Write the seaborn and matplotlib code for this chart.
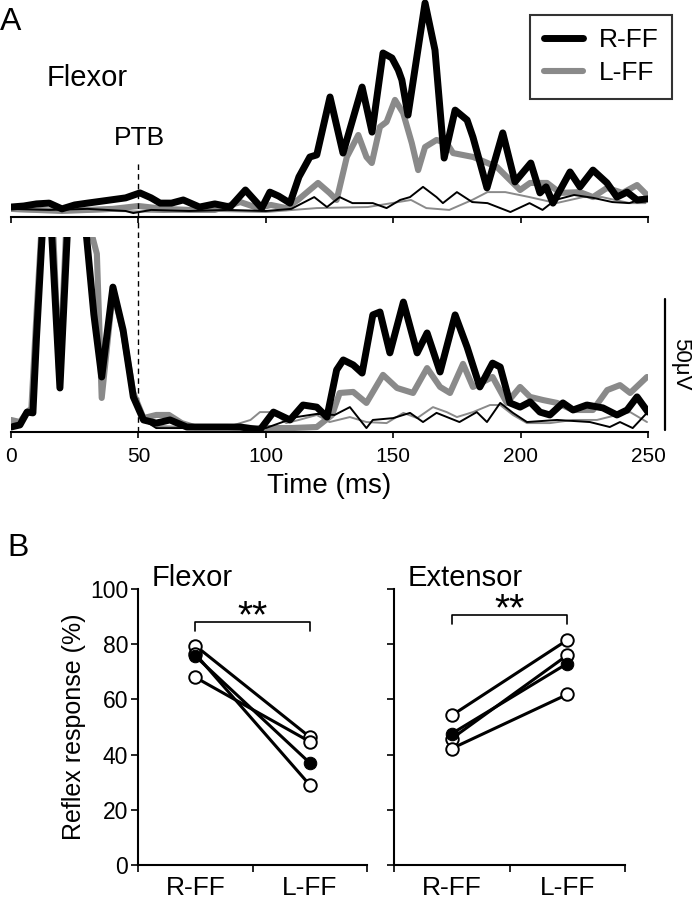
import matplotlib
matplotlib.use("Agg")
import matplotlib.pyplot as plt
import numpy as np
import pandas as pd
import seaborn as sns

# ---- Panel A: rectified EMG traces (uV vs ms) ----
# flexor, R-FF (thick black)
flx_t_r = [0, 5, 10, 15, 20, 25, 30, 39, 45, 50.6, 55, 58.5, 63, 67.6, 74, 80, 86, 92, 98.4, 101.6,
           105, 109.5, 113, 117.3, 120, 125.2, 130.3, 137.8, 141.7, 146, 149.5, 152, 153.4, 155.8, 162.5,
           166.4, 170, 174.3, 179, 181.3, 186.8, 193, 197.8, 204, 207.6, 210, 212.7, 219.4, 223.3, 228.4,
           233.9, 237.8, 241.8, 245.7, 250]
flx_r = [3.8, 4.2, 5.0, 5.3, 3.1, 4.6, 5.3, 6.5, 7.3, 9.2, 7.3, 5.3, 5.3, 6.5, 3.8, 5.0, 3.8, 10.3, 3.4, 9.5,
         8.0, 5.3, 15.3, 22.9, 23.7, 45.8, 24.4, 49.6, 32.4, 62.6, 60.7, 56.1, 52.3, 38.9, 81.7,
         63.7, 22.5, 40.8, 37.0, 30.5, 11.1, 32.1, 13.4, 20.6, 9.2, 11.5, 5.3, 17.2, 11.5, 17.9,
         13.0, 7.6, 9.5, 6.5, 6.9]
# flexor, L-FF (thick grey)
flx_t_l = [0, 10, 20, 30, 40, 50, 60, 70, 80, 90, 97, 102, 108, 112.6, 120.5, 125, 127.8, 131.8, 136.3,
           139.5, 141.6, 144.8, 147.4, 150.7, 153.9, 157.3, 159.8, 162.5, 167, 171, 173.5, 181.4, 190.7,
           194.6, 199.8, 203.7, 210.4, 215.5, 223.3, 228.4, 233.9, 240, 245.7, 249.6]
flx_l = [3.1, 2.7, 2.3, 2.7, 3.1, 4.2, 3.1, 2.7, 2.7, 5.7, 3.4, 4.6, 3.4, 6.5, 13.0, 9.2, 6.5, 22.9, 31.3,
         22.9, 20.6, 34.4, 36.3, 44.7, 39.7, 28.2, 17.9, 26.7, 29.4, 28.2, 24.4, 22.9, 19.1,
         15.3, 10.3, 13.0, 13.0, 9.2, 9.5, 7.6, 11.1, 9.2, 12.2, 8.4]
# flexor, controls (thin black / thin grey)
flx_t_rc = [0, 15, 30, 45, 48, 55, 70, 85, 100, 110, 119, 124, 129, 134, 142, 147.4, 152.7, 156.6, 161.7,
            167, 169.5, 175, 181, 187, 196, 203.5, 208.6, 213.6, 221, 228.5, 236, 242.6, 249]
flx_rc = [3.1, 2.7, 3.1, 2.3, 1.5, 2.7, 2.3, 2.7, 2.3, 3.1, 7.6, 3.8, 7.6, 5.3, 5.3, 3.4, 6.5, 7.6, 11.5,
          7.6, 5.3, 9.5, 5.7, 5.3, 1.9, 5.3, 2.7, 6.5, 8.4, 7.3, 5.7, 5.3, 7.3]
flx_t_lc = [0, 20, 40, 60, 80, 100, 120, 140, 157, 163, 172, 181, 187, 194, 203.5, 214, 224.5, 232, 237, 243, 249]
flx_lc = [2.3, 1.9, 2.3, 1.9, 2.3, 1.9, 3.4, 3.8, 6.5, 3.4, 2.7, 6.5, 9.5, 9.5, 7.6, 5.3, 7.6, 7.6, 6.5, 5.3, 5.3]

# extensor, stimulus artefact (shared by the black traces, clipped at the top)
ext_art_t = [0, 3.5, 6.3, 8.6, 10, 12.5, 14, 16, 19.2, 22.3, 26, 29.7, 32.5, 35.6, 40, 44, 48, 52]
ext_art_v = [1.9, 2.7, 7.6, 7.3, 36, 80, 100, 75, 16.8, 80, 100, 74, 45, 21, 55.3, 38.9, 13.4, 4.6]
# extensor, R-FF after the artefact
ext_t_r = [57, 62.4, 69, 80.7, 90, 97.7, 103, 109.5, 114.6, 120, 124, 127.8, 130.4, 134.3, 137.8, 142,
           144.8, 148.7, 154, 159.4, 163.3, 168.4, 174.3, 179, 184, 189, 192, 195.8, 199.8, 203.7,
           207.6, 211.5, 216.6, 220.6, 226, 232.3, 237.8, 241.8, 245.7, 250]
ext_r = [3.4, 4.6, 1.9, 1.9, 1.9, 0.8, 7.6, 4.6, 10.3, 9.5, 5.7, 23.7, 27.5, 25.6, 22.5, 44.7,
         45.8, 30.2, 49.6, 30.2, 37.8, 22.9, 44.7, 32.4, 17.2, 26.3, 24.8, 11.1, 9.5, 11.5,
         7.6, 6.5, 11.1, 8.4, 10.3, 9.2, 6.5, 8.4, 13.4, 7.6]
# extensor, L-FF
ext_t_l = [0, 3.5, 6.3, 8, 10, 12, 14, 16.5, 19, 21.5, 26, 31, 33.7, 35.6, 40, 44, 48, 52, 57, 62,
           67, 72, 85, 95, 100, 110, 120, 126, 129, 134.3, 139.5, 146, 151.5, 157.8, 163.3, 168.4,
           172.3, 177.4, 181.3, 189, 194.6, 199.8, 203.7, 208.8, 214.3, 220.6, 228.4, 234, 239, 243, 249.6]
ext_l = [4.6, 3.8, 7.6, 9, 45, 78, 100, 78, 20, 74, 100, 78, 68, 13, 54, 38, 15, 5.3, 6.5, 6.5,
         3.4, 1.9, 1.9, 1.5, 1.5, 1.5, 1.9, 6.5, 14.9, 15.3, 11.1, 21.8, 16.8, 14.9, 24.4, 17.2,
         14.9, 26, 17.2, 21, 11.1, 17.2, 13.4, 12.2, 11.1, 8.4, 8.4, 16, 17.9, 14.9, 21]
# extensor, controls after the artefact
ext_t_rc = [57, 70, 85, 100, 112, 120, 127, 133, 139.5, 142, 150, 156.6, 161.7, 167, 176, 182.8, 186.8,
            192, 197, 202.5, 214.3, 227.2, 235, 239, 244, 249.6]
ext_rc = [1.5, 1.5, 1.9, 1.5, 5.7, 6.9, 6.5, 9.5, 1.5, 4.6, 5.3, 7.3, 3.8, 7.3, 3.8, 7.6, 3.8,
          11.1, 7.3, 3.8, 4.6, 3.8, 1.9, 3.8, 1.5, 7.3]
ext_t_lc = [57, 70, 85, 94, 97.7, 103, 108, 113, 120, 125, 133, 139.5, 147.4, 154, 159.4, 165.6, 171,
            175, 181.3, 188, 192, 197, 202.5, 211.5, 220.6, 230, 237.8, 243, 249.6]
ext_lc = [2.3, 1.9, 1.9, 4.6, 7.6, 7.6, 3.4, 4.6, 6.5, 3.8, 5.7, 3.8, 3.4, 7.3, 5.3, 9.5, 7.6,
          5.7, 7.6, 10.3, 10.3, 6.5, 3.4, 3.4, 4.6, 4.6, 6.5, 7.6, 3.8]

time_ticks = [0, 50, 100, 150, 200, 250]
ptb_time = 50
scale_uv = 50

# ---- Panel B: reflex response (%) per animal and mean ----
conditions = ["R-FF", "L-FF"]
flx_rff = [79.5, 68.0, 76.5]
flx_lff = [46.4, 44.7, 29.0]
flx_mean = [75.7, 37.0]
ext_rff = [54.2, 45.8, 42.2]
ext_lff = [81.5, 76.0, 61.8]
ext_mean = [47.6, 73.0]

sns.set_style("ticks")
plt.rcParams["font.family"] = ["Liberation Sans", "DejaVu Sans"]
plt.rcParams["axes.linewidth"] = 1.2
for k in ["text.color", "axes.labelcolor", "xtick.color", "ytick.color", "axes.edgecolor"]:
    plt.rcParams[k] = "black"

GREY = "#8a8a8a"
W, H = 693, 900
PX_PER_UV = 2.62

fig = plt.figure(figsize=(W / 100, H / 100), dpi=100)
axA1 = fig.add_axes([11 / W, 1 - 217 / H, 637 / W, 217 / H])
axA2 = fig.add_axes([11 / W, 1 - 432 / H, 637 / W, 195 / H])
axB1 = fig.add_axes([138 / W, 1 - 865 / H, 229 / W, 276 / H])
axB2 = fig.add_axes([394 / W, 1 - 865 / H, 231 / W, 276 / H])


def draw_traces(ax, tl, vl, tlc, vlc, trc, vrc, tr, vr):
    sns.lineplot(x=tl, y=vl, ax=ax, color=GREY, lw=4.4, estimator=None, label="L-FF", zorder=1)
    sns.lineplot(x=tlc, y=vlc, ax=ax, color=GREY, lw=1.4, estimator=None, legend=False, zorder=2)
    sns.lineplot(x=trc, y=vrc, ax=ax, color="black", lw=1.4, estimator=None, legend=False, zorder=3)
    sns.lineplot(x=tr, y=vr, ax=ax, color="black", lw=5, estimator=None, label="R-FF", zorder=4)


draw_traces(axA1, flx_t_l, flx_l, flx_t_lc, flx_lc, flx_t_rc, flx_rc, flx_t_r, flx_r)
draw_traces(axA2, ext_t_l, ext_l,
            ext_art_t + ext_t_lc, ext_art_v + ext_lc,
            ext_art_t + ext_t_rc, ext_art_v + ext_rc,
            ext_art_t + ext_t_r, ext_art_v + ext_r)

for ax, h in [(axA1, 217), (axA2, 195)]:
    ax.set_xlim(0, 250)
    ax.set_ylim(0, h / PX_PER_UV)
    ax.set_xticks(time_ticks)
    ax.set_yticks([])
    ax.set_xlabel("")
    ax.set_ylabel("")
    for s in ["left", "right", "top"]:
        ax.spines[s].set_visible(False)
    ax.spines["bottom"].set_linewidth(1.5)
    ax.tick_params(axis="x", direction="out", length=4, width=1.2, labelsize=15, pad=7)
    ax.patch.set_alpha(0)

axA1.tick_params(axis="x", labelbottom=False)
axA2.set_xlabel("Time (ms)", fontsize=20, labelpad=5)

h, l = axA1.get_legend_handles_labels()
order = [l.index("R-FF"), l.index("L-FF")]
leg = axA1.legend([h[i] for i in order], [l[i] for i in order], loc="upper right",
                  bbox_to_anchor=(672 / W, 1 - 15 / H), bbox_transform=fig.transFigure,
                  frameon=True, fancybox=False, edgecolor="black", borderaxespad=0,
                  handlelength=1.5, handletextpad=0.6, labelspacing=0.35, borderpad=0.5,
                  fontsize=19)
leg.get_frame().set_linewidth(1.5)
axA2.get_legend().remove()

# stimulus marker (PTB) spanning both traces
axA2.plot([ptb_time, ptb_time], [0, (432 - 160) / PX_PER_UV], color="black", lw=1,
          ls=(0, (4, 3)), clip_on=False, zorder=0)
fig.text(139 / W, 1 - 138 / H, "PTB", ha="center", va="center", fontsize=19)

# scale bar
axA2.plot([256.7, 256.7], [0.8, 0.8 + scale_uv], color="black", lw=1.6, clip_on=False)
axA2.text(262.6, 0.8 + scale_uv / 2, f"{scale_uv}μV", rotation=270, ha="center", va="center",
          fontsize=16, clip_on=False)

fig.text(0.0, 1 - 22 / H, "A", ha="left", va="center", fontsize=23)
fig.text(47 / W, 1 - 78 / H, "Flexor", ha="left", va="center", fontsize=21)
fig.text(7 / W, 1 - 548 / H, "B", ha="left", va="center", fontsize=23)


# ---- Panel B ----
def draw_pairs(ax, rff, lff, mean, title, bracket_y, star_y, show_labels):
    df = pd.DataFrame({
        "animal": np.repeat(np.arange(len(rff)), 2),
        "pos": np.tile([0, 1], len(rff)),
        "value": np.ravel(np.column_stack([rff, lff])),
    })
    for a, sub in df.groupby("animal"):
        sns.lineplot(data=sub, x="pos", y="value", ax=ax, color="black", lw=2.2,
                     marker="o", markersize=9, markerfacecolor="white",
                     markeredgecolor="black", markeredgewidth=1.4, estimator=None, zorder=2)
    sns.lineplot(x=[0, 1], y=mean, ax=ax, color="black", lw=2.2, marker="o", markersize=9,
                 markerfacecolor="black", markeredgecolor="black", estimator=None, zorder=3)
    ax.set_xlim(-0.5, 1.5)
    ax.set_ylim(0, 100)
    ax.set_yticks(range(0, 101, 20))
    ax.set_xticks([0, 1])
    ax.set_xticklabels(conditions)
    ax.set_xticks([-0.5, 0.5, 1.5], minor=True)
    ax.tick_params(axis="x", which="major", length=0, labelsize=19, pad=8)
    ax.tick_params(axis="x", which="minor", length=5, width=1.2, direction="out")
    ax.tick_params(axis="y", length=5, width=1.2, direction="out", labelsize=16.5, pad=2,
                   labelleft=show_labels)
    for s in ["right", "top"]:
        ax.spines[s].set_visible(False)
    ax.spines["left"].set_linewidth(1.5)
    ax.spines["bottom"].set_linewidth(1.5)
    ax.set_xlabel("")
    ax.set_ylabel("")
    ax.plot([0, 0, 1, 1], [bracket_y - 3.2, bracket_y, bracket_y, bracket_y - 3.2],
            color="black", lw=1.2, clip_on=False)
    ax.text(0.5, star_y, "**", ha="center", va="baseline", fontsize=28)
    ax.text(0.061, 1.04, title, transform=ax.transAxes, ha="left", va="center", fontsize=21)


draw_pairs(axB1, flx_rff, flx_lff, flx_mean, "Flexor", 88, 86, True)
draw_pairs(axB2, ext_rff, ext_lff, ext_mean, "Extensor", 90.5, 88.5, False)
axB1.set_ylabel("Reflex response (%)", fontsize=18, labelpad=3)

fig.savefig("out.png", dpi=100)
